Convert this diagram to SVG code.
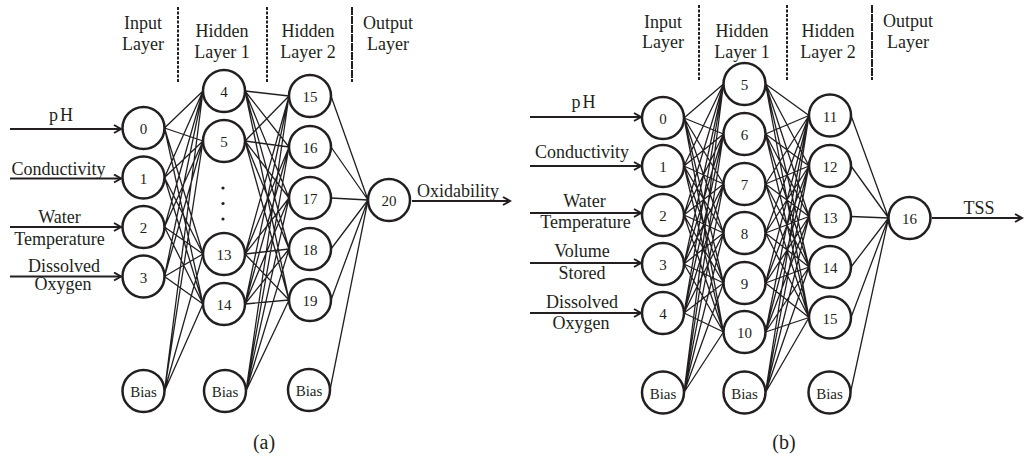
<svg xmlns="http://www.w3.org/2000/svg" width="1024" height="458" viewBox="0 0 1024 458">
<style>
.t{font-family:"Liberation Serif","Times New Roman",serif;font-size:18px;fill:#231f20;text-anchor:middle}
.n{font-size:15px}
.c{fill:#fff;stroke:#231f20;stroke-width:2.5}
.w{fill:none;stroke:#231f20;stroke-width:1.3}
.a{fill:none;stroke:#231f20;stroke-width:2}
.d{fill:none;stroke:#231f20;stroke-width:2;stroke-dasharray:3 1.5}
</style>
<defs>
<marker id="ah" markerWidth="10" markerHeight="10" refX="8" refY="5" orient="auto" markerUnits="userSpaceOnUse">
<path d="M1,1 L8,5 L1,9" fill="none" stroke="#231f20" stroke-width="2"/>
</marker>
</defs>
<rect width="1024" height="458" fill="#fff"/>

<g id="headers">
<line class="d" x1="178" y1="7" x2="178" y2="82"/>
<line class="d" x1="267" y1="7" x2="267" y2="82"/>
<line class="d" x1="352" y1="7" x2="352" y2="82" style="stroke-dasharray:8 1"/>
<text class="t" x="143" y="29">Input</text><text class="t" x="143" y="50">Layer</text>
<text class="t" x="222" y="37">Hidden</text><text class="t" x="222" y="58">Layer 1</text>
<text class="t" x="308" y="37">Hidden</text><text class="t" x="308" y="58">Layer 2</text>
<text class="t" x="388" y="29">Output</text><text class="t" x="388" y="50">Layer</text>
<line class="d" x1="699" y1="5" x2="699" y2="80"/>
<line class="d" x1="787" y1="5" x2="787" y2="80"/>
<line class="d" x1="872" y1="5" x2="872" y2="80" style="stroke-dasharray:8 1"/>
<text class="t" x="663" y="28">Input</text><text class="t" x="663" y="48">Layer</text>
<text class="t" x="742" y="37">Hidden</text><text class="t" x="742" y="58">Layer 1</text>
<text class="t" x="828" y="37">Hidden</text><text class="t" x="828" y="58">Layer 2</text>
<text class="t" x="908" y="27">Output</text><text class="t" x="908" y="48">Layer</text>
</g>

<g id="connectors">
<path class="w" d="M164.5 128L203 91M164.5 128L203 141M164.5 128L203 254M164.5 128L203 304M164.5 177.5L203 91M164.5 177.5L203 141M164.5 177.5L203 254M164.5 177.5L203 304M164.5 227L203 91M164.5 227L203 141M164.5 227L203 254M164.5 227L203 304M164.5 276.5L203 91M164.5 276.5L203 141M164.5 276.5L203 254M164.5 276.5L203 304M164.5 391L203 91M164.5 391L203 141M164.5 391L203 254M164.5 391L203 304"/>
<path class="w" d="M245 91L289 96M245 91L289 147M245 91L289 198M245 91L289 249M245 91L289 300M245 141L289 96M245 141L289 147M245 141L289 198M245 141L289 249M245 141L289 300M245 254L289 96M245 254L289 147M245 254L289 198M245 254L289 249M245 254L289 300M245 304L289 96M245 304L289 147M245 304L289 198M245 304L289 249M245 304L289 300M246 391L289 96M246 391L289 147M246 391L289 198M246 391L289 249M246 391L289 300"/>
<path class="w" d="M331 96L368 200M331 147L368 200M331 198L368 200M331 249L368 200M331 300L368 200M330 390L368 200"/>
<path class="w" d="M684 118L723.5 84M684 118L723.5 134M684 118L723.5 184M684 118L723.5 233M684 118L723.5 283M684 118L723.5 332M684 166L723.5 84M684 166L723.5 134M684 166L723.5 184M684 166L723.5 233M684 166L723.5 283M684 166L723.5 332M684 215L723.5 84M684 215L723.5 134M684 215L723.5 184M684 215L723.5 233M684 215L723.5 283M684 215L723.5 332M684 264L723.5 84M684 264L723.5 134M684 264L723.5 184M684 264L723.5 233M684 264L723.5 283M684 264L723.5 332M684 313L723.5 84M684 313L723.5 134M684 313L723.5 184M684 313L723.5 233M684 313L723.5 283M684 313L723.5 332M684 392.5L723.5 84M684 392.5L723.5 134M684 392.5L723.5 184M684 392.5L723.5 233M684 392.5L723.5 283M684 392.5L723.5 332"/>
<path class="w" d="M765.5 84L809 115.5M765.5 84L809 166M765.5 84L809 216.5M765.5 84L809 267M765.5 84L809 317.5M765.5 134L809 115.5M765.5 134L809 166M765.5 134L809 216.5M765.5 134L809 267M765.5 134L809 317.5M765.5 184L809 115.5M765.5 184L809 166M765.5 184L809 216.5M765.5 184L809 267M765.5 184L809 317.5M765.5 233L809 115.5M765.5 233L809 166M765.5 233L809 216.5M765.5 233L809 267M765.5 233L809 317.5M765.5 283L809 115.5M765.5 283L809 166M765.5 283L809 216.5M765.5 283L809 267M765.5 283L809 317.5M765.5 332L809 115.5M765.5 332L809 166M765.5 332L809 216.5M765.5 332L809 267M765.5 332L809 317.5M765.5 392.5L809 115.5M765.5 392.5L809 166M765.5 392.5L809 216.5M765.5 392.5L809 267M765.5 392.5L809 317.5"/>
<path class="w" d="M851 115.5L888.5 218M851 166L888.5 218M851 216.5L888.5 218M851 267L888.5 218M851 317.5L888.5 218M850.5 392.5L888.5 218"/>
<line class="a" x1="10" y1="129" x2="121" y2="129" marker-end="url(#ah)"/>
<line class="a" x1="10" y1="178.5" x2="121" y2="178.5" marker-end="url(#ah)"/>
<line class="a" x1="10" y1="227" x2="121" y2="227" marker-end="url(#ah)"/>
<line class="a" x1="10" y1="276.5" x2="121" y2="276.5" marker-end="url(#ah)"/>
<line class="a" x1="412" y1="201" x2="510" y2="201" marker-end="url(#ah)"/>
<line class="a" x1="530" y1="117" x2="641" y2="117" marker-end="url(#ah)"/>
<line class="a" x1="530" y1="166" x2="641" y2="166" marker-end="url(#ah)"/>
<line class="a" x1="530" y1="213" x2="641" y2="213" marker-end="url(#ah)"/>
<line class="a" x1="530" y1="263" x2="641" y2="263" marker-end="url(#ah)"/>
<line class="a" x1="530" y1="313" x2="641" y2="313" marker-end="url(#ah)"/>
<line class="a" x1="932" y1="218" x2="1022" y2="218" marker-end="url(#ah)"/>
</g>

<g id="labels">
<text class="t" x="62" y="121" letter-spacing="2">pH</text>
<text class="t" x="58.5" y="175">Conductivity</text>
<text class="t" x="59.5" y="223">Water</text>
<text class="t" x="59.5" y="245">Temperature</text>
<text class="t" x="64" y="272">Dissolved</text>
<text class="t" x="63" y="290">Oxygen</text>
<text class="t" x="458" y="197">Oxidability</text>
<text class="t" x="584.5" y="108" letter-spacing="2">pH</text>
<text class="t" x="582" y="158">Conductivity</text>
<text class="t" x="584.5" y="207">Water</text>
<text class="t" x="585.5" y="228">Temperature</text>
<text class="t" x="582" y="257">Volume</text>
<text class="t" x="582" y="279">Stored</text>
<text class="t" x="582" y="308">Dissolved</text>
<text class="t" x="581" y="329">Oxygen</text>
<text class="t" x="979" y="214">TSS</text>
<text class="t" x="264" y="449" style="font-size:20px">(a)</text>
<text class="t" x="784" y="449" style="font-size:20px">(b)</text>
</g>

<g id="a-in0"><circle class="c" cx="143.5" cy="128" r="21"/><text class="t n" x="143.5" y="134">0</text></g>
<g id="a-in1"><circle class="c" cx="143.5" cy="177.5" r="21"/><text class="t n" x="143.5" y="183.5">1</text></g>
<g id="a-in2"><circle class="c" cx="143.5" cy="227" r="21"/><text class="t n" x="143.5" y="233">2</text></g>
<g id="a-in3"><circle class="c" cx="143.5" cy="276.5" r="21"/><text class="t n" x="143.5" y="282.5">3</text></g>
<g id="a-inb"><circle class="c" cx="143.5" cy="391" r="21"/><text class="t n" x="143.5" y="397">Bias</text></g>
<g id="a-h4"><circle class="c" cx="224" cy="91" r="21"/><text class="t n" x="224" y="97">4</text></g>
<g id="a-h5"><circle class="c" cx="224" cy="141" r="21"/><text class="t n" x="224" y="147">5</text></g>
<g id="a-dots"><circle cx="223" cy="188" r="1.6" fill="#231f20"/><circle cx="223" cy="203.5" r="1.6" fill="#231f20"/><circle cx="223" cy="219" r="1.6" fill="#231f20"/></g>
<g id="a-h13"><circle class="c" cx="224" cy="254" r="21"/><text class="t n" x="224" y="260">13</text></g>
<g id="a-h14"><circle class="c" cx="224" cy="304" r="21"/><text class="t n" x="224" y="310">14</text></g>
<g id="a-h1b"><circle class="c" cx="225" cy="391" r="21"/><text class="t n" x="225" y="397">Bias</text></g>
<g id="a-h15"><circle class="c" cx="310" cy="96" r="21"/><text class="t n" x="310" y="102">15</text></g>
<g id="a-h16"><circle class="c" cx="310" cy="147" r="21"/><text class="t n" x="310" y="153">16</text></g>
<g id="a-h17"><circle class="c" cx="310" cy="198" r="21"/><text class="t n" x="310" y="204">17</text></g>
<g id="a-h18"><circle class="c" cx="310" cy="249" r="21"/><text class="t n" x="310" y="255">18</text></g>
<g id="a-h19"><circle class="c" cx="310" cy="300" r="21"/><text class="t n" x="310" y="306">19</text></g>
<g id="a-h2b"><circle class="c" cx="309" cy="390" r="21"/><text class="t n" x="309" y="396">Bias</text></g>
<g id="a-o20"><circle class="c" cx="389" cy="200" r="21"/><text class="t n" x="389" y="206">20</text></g>

<g id="b-in0"><circle class="c" cx="663" cy="118" r="21"/><text class="t n" x="663" y="124">0</text></g>
<g id="b-in1"><circle class="c" cx="663" cy="166" r="21"/><text class="t n" x="663" y="172">1</text></g>
<g id="b-in2"><circle class="c" cx="663" cy="215" r="21"/><text class="t n" x="663" y="221">2</text></g>
<g id="b-in3"><circle class="c" cx="663" cy="264" r="21"/><text class="t n" x="663" y="270">3</text></g>
<g id="b-in4"><circle class="c" cx="663" cy="313" r="21"/><text class="t n" x="663" y="319">4</text></g>
<g id="b-inb"><circle class="c" cx="663" cy="392.5" r="21"/><text class="t n" x="663" y="398.5">Bias</text></g>
<g id="b-h5"><circle class="c" cx="744.5" cy="84" r="21"/><text class="t n" x="744.5" y="90">5</text></g>
<g id="b-h6"><circle class="c" cx="744.5" cy="134" r="21"/><text class="t n" x="744.5" y="140">6</text></g>
<g id="b-h7"><circle class="c" cx="744.5" cy="184" r="21"/><text class="t n" x="744.5" y="190">7</text></g>
<g id="b-h8"><circle class="c" cx="744.5" cy="233" r="21"/><text class="t n" x="744.5" y="239">8</text></g>
<g id="b-h9"><circle class="c" cx="744.5" cy="283" r="21"/><text class="t n" x="744.5" y="289">9</text></g>
<g id="b-h10"><circle class="c" cx="744.5" cy="332" r="21"/><text class="t n" x="744.5" y="338">10</text></g>
<g id="b-h1b"><circle class="c" cx="744.5" cy="392.5" r="21"/><text class="t n" x="744.5" y="398.5">Bias</text></g>
<g id="b-h11"><circle class="c" cx="830" cy="115.5" r="21"/><text class="t n" x="830" y="121.5">11</text></g>
<g id="b-h12"><circle class="c" cx="830" cy="166" r="21"/><text class="t n" x="830" y="172">12</text></g>
<g id="b-h13"><circle class="c" cx="830" cy="216.5" r="21"/><text class="t n" x="830" y="222.5">13</text></g>
<g id="b-h14"><circle class="c" cx="830" cy="267" r="21"/><text class="t n" x="830" y="273">14</text></g>
<g id="b-h15"><circle class="c" cx="830" cy="317.5" r="21"/><text class="t n" x="830" y="323.5">15</text></g>
<g id="b-h2b"><circle class="c" cx="829.5" cy="392.5" r="21"/><text class="t n" x="829.5" y="398.5">Bias</text></g>
<g id="b-o16"><circle class="c" cx="909.5" cy="218" r="21"/><text class="t n" x="909.5" y="224">16</text></g>
</svg>
